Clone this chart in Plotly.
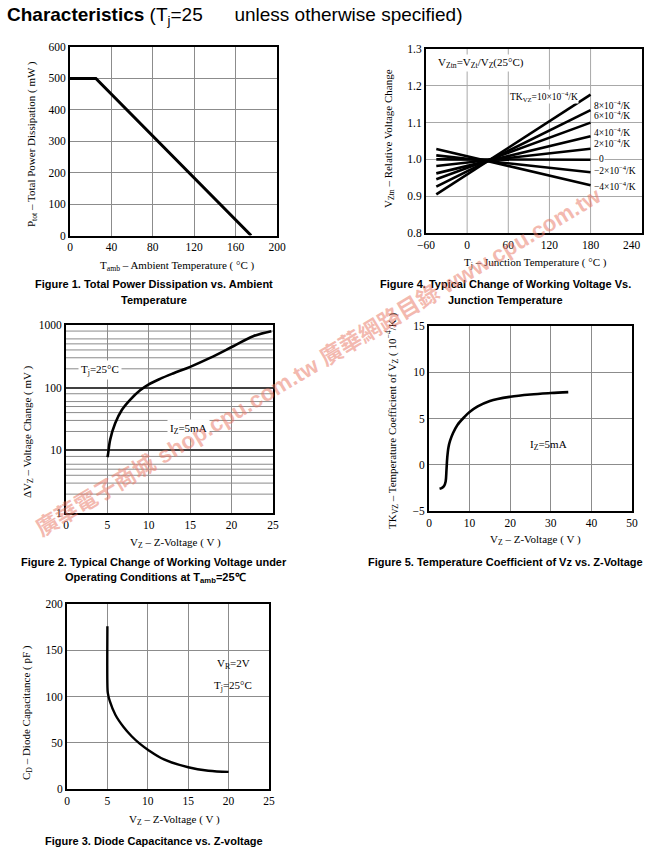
import plotly.graph_objects as go

W, H = 651, 863

# ---------------- data ----------------
# Figure 1: Total power dissipation vs ambient temperature
F1_TAMB = [0, 25, 175]
F1_PTOT = [500, 500, 0]
F1_XTICKS = [0, 40, 80, 120, 160, 200]
F1_YTICKS = [0, 100, 200, 300, 400, 500, 600]

# Figure 4: relative voltage change vs junction temperature
F4_TJ = [-45, 180]
F4_TK = [10, 8, 6, 4, 2, 0, -2, -4]
F4_START = [0.905, 0.926, 0.946, 0.962, 0.982, 1.000, 1.011, 1.028]
F4_END = [1.176, 1.134, 1.100, 1.063, 1.029, 0.999, 0.965, 0.930]
F4_LABELS = ["TK<sub>VZ</sub>=10×10<sup>−4</sup>/K", "8×10<sup>−4</sup>/K", "6×10<sup>−4</sup>/K",
             "4×10<sup>−4</sup>/K", "2×10<sup>−4</sup>/K", "0", "−2×10<sup>−4</sup>/K",
             "−4×10<sup>−4</sup>/K"]
F4_XTICKS = [-60, 0, 60, 120, 180, 240]
F4_XGRID = [0, 60, 120, 180]
F4_YTICKS = [0.8, 0.9, 1.0, 1.1, 1.2, 1.3]

# Figure 2: voltage change vs Z-voltage (log)
F2_VZ = [5.0, 5.05, 5.33, 5.94, 6.74, 7.74, 8.95, 9.95, 11.35, 13.0, 15.0, 17.4, 20.2, 22.6, 24.8]
F2_DV = [7.8, 8.2, 14.7, 27, 44, 64, 91, 112, 138, 170, 215, 298, 458, 662, 796]
F2_XTICKS = [0, 5, 10, 15, 20, 25]
F2_YDECADES = [1, 10, 100, 1000]
F2_MINOR = [2, 3, 4, 5, 6, 8]

# Figure 5: temperature coefficient vs Z-voltage
F5_VZ = [2.6, 3.2, 3.7, 4.1, 4.3, 4.5, 4.8, 5.2, 5.9, 7.0, 8.8, 10, 12, 15, 20, 25, 30, 34.3]
F5_TK = [-2.6, -2.5, -2.3, -1.8, -0.6, 0.8, 1.9, 2.6, 3.4, 4.3, 5.2, 5.7, 6.3, 6.9, 7.35, 7.6, 7.75, 7.85]
F5_XTICKS = [0, 10, 20, 30, 40, 50]
F5_YTICKS = [-5, 0, 5, 10, 15]

# Figure 3: diode capacitance vs Z-voltage
F3_VZ = [5.0, 5.0, 5.05, 5.3, 6.0, 7.0, 8.0, 9.0, 10, 12, 15, 17.5, 20]
F3_CD = [176, 112, 104, 95, 80, 67, 57, 49, 42.5, 32, 23.5, 19.8, 18.5]
F3_XTICKS = [0, 5, 10, 15, 20, 25]
F3_YTICKS = [0, 50, 100, 150, 200]

# ---------------- helpers ----------------
SERIF = "Liberation Serif, Times New Roman, serif"
SANS = "Liberation Sans, Arial, sans-serif"


def fx(px):
    return px / W


def fy(py):
    return 1 - py / H


def axis_common(**kw):
    d = dict(showline=True, linecolor="black", linewidth=2, mirror=True,
             ticks="", showgrid=True, gridcolor="#8c8c8c", gridwidth=1,
             zeroline=False, tickfont=dict(family=SERIF, size=11.5, color="black"),
             fixedrange=True)
    d.update(kw)
    return d


fig = go.Figure()

# minor log gridlines for figure 2 (drawn as thin grey lines under the curve)
gx, gy = [], []
for d in F2_YDECADES[:-1]:
    for m in F2_MINOR:
        gx += [F2_XTICKS[0], F2_XTICKS[-1], None]
        gy += [d * m, d * m, None]
fig.add_trace(go.Scatter(x=gx, y=gy, mode="lines", line=dict(color="#8a8a8a", width=1),
                         xaxis="x3", yaxis="y3", hoverinfo="skip"))

LINE = dict(color="black", width=3)
fig.add_trace(go.Scatter(x=F1_TAMB, y=F1_PTOT, mode="lines", line=LINE, xaxis="x", yaxis="y"))
for s, e in zip(F4_START, F4_END):
    fig.add_trace(go.Scatter(x=F4_TJ, y=[s, e], mode="lines", line=dict(color="black", width=2.6),
                             xaxis="x2", yaxis="y2"))
fig.add_trace(go.Scatter(x=F2_VZ, y=F2_DV, mode="lines", line=dict(color="black", width=2.6, shape="spline"),
                         xaxis="x3", yaxis="y3"))
fig.add_trace(go.Scatter(x=F5_VZ, y=F5_TK, mode="lines", line=dict(color="black", width=2.6, shape="spline"),
                         xaxis="x4", yaxis="y4"))
fig.add_trace(go.Scatter(x=F3_VZ, y=F3_CD, mode="lines", line=dict(color="black", width=2.4, shape="spline"),
                         xaxis="x5", yaxis="y5"))

layout = dict(
    width=W, height=H, margin=dict(l=0, r=0, t=0, b=0, pad=0, autoexpand=False), autosize=False,
    paper_bgcolor="white", plot_bgcolor="white", showlegend=False,
    # Figure 1
    xaxis=axis_common(domain=[fx(70), fx(277)], range=[0, 200], tickvals=F1_XTICKS, anchor="y"),
    yaxis=axis_common(domain=[fy(235.5), fy(47)], range=[0, 600], tickvals=F1_YTICKS, anchor="x"),
    # Figure 4
    xaxis2=axis_common(domain=[fx(426), fx(642)], range=[-60, 255], tickvals=F4_XTICKS,
                       showgrid=False, anchor="y2"),
    yaxis2=axis_common(domain=[fy(233), fy(49)], range=[0.8, 1.3], tickvals=F4_YTICKS,
                       tickformat=".1f", anchor="x2", gridcolor="#a8a8a8"),
    # Figure 2
    xaxis3=axis_common(domain=[fx(66), fx(273)], range=[0, 25], tickvals=F2_XTICKS, anchor="y3"),
    yaxis3=axis_common(domain=[fy(513), fy(325)], type="log", range=[0, 3], tickvals=F2_YDECADES,
                       anchor="x3", gridcolor="#404040", gridwidth=1.5),
    # Figure 5
    xaxis4=axis_common(domain=[fx(429), fx(632)], range=[0, 50], tickvals=F5_XTICKS, anchor="y4"),
    yaxis4=axis_common(domain=[fy(511), fy(326)], range=[-5, 15], tickvals=F5_YTICKS, anchor="x4"),
    # Figure 3
    xaxis5=axis_common(domain=[fx(67), fx(269)], range=[0, 25], tickvals=F3_XTICKS, anchor="y5"),
    yaxis5=axis_common(domain=[fy(789), fy(604)], range=[0, 200], tickvals=F3_YTICKS, anchor="x5"),
)
fig.update_layout(**layout)

# vertical grid for figure 4 (no line at 240)
shapes = []
for g in F4_XGRID:
    shapes.append(dict(type="line", xref="x2", yref="y2 domain", x0=g, x1=g, y0=0, y1=1,
                       line=dict(color="#a8a8a8", width=1), layer="below"))
fig.update_layout(shapes=shapes)

ann = []


def paper_text(text, px, py, size=11, family=SERIF, angle=0, bold=False, xanchor="center", color="black"):
    ann.append(dict(text=text, x=fx(px), y=fy(py), xref="paper", yref="paper", showarrow=False,
                    xanchor=xanchor, yanchor="middle", textangle=angle, align=xanchor,
                    font=dict(family=family, size=size, color=color, weight="bold" if bold else "normal")))


def data_text(text, x, y, xr, yr, size=11, xanchor="center", bg="white", pad=1):
    ann.append(dict(text=text, x=x, y=y, xref=xr, yref=yr, showarrow=False, xanchor=xanchor,
                    yanchor="middle", bgcolor=bg, borderpad=pad,
                    font=dict(family=SERIF, size=size, color="black")))


# Title
paper_text("<b>Characteristics</b> (T<sub>j</sub>=25\u00a0\u00a0\u00a0\u00a0\u00a0 unless otherwise specified)",
           5, 16, size=19, family=SANS, xanchor="left")

# Figure 1 texts
paper_text("T<sub>amb</sub> – Ambient Temperature ( °C )", 177, 266)
paper_text("P<sub>tot</sub> – Total Power Dissipation ( mW )", 32, 144, angle=-90)
paper_text("Figure 1. Total Power Dissipation vs. Ambient", 154, 284, family=SANS, bold=True)
paper_text("Temperature", 154, 300, family=SANS, bold=True)

# Figure 4 texts
paper_text("T<sub>j</sub> – Junction Temperature ( °C )", 535, 263)
paper_text("V<sub>Ztn</sub> – Relative Voltage Change", 389, 139, angle=-90)
paper_text("Figure 4. Typical Change of Working Voltage Vs.", 505, 284, family=SANS, bold=True)
paper_text("Junction Temperature", 505, 300, family=SANS, bold=True)
data_text("V<sub>Ztn</sub>=V<sub>Zt</sub>/V<sub>Z</sub>(25°C)", 19.7, 1.262, "x2", "y2")
f4_label_pos = [(163, 1.172, "right", "white"), (183, 1.149, "left", None), (183, 1.122, "left", None),
                (183, 1.074, "left", None), (183, 1.045, "left", None), (191, 1.0, "left", "white"),
                (183, 0.970, "left", None), (183, 0.928, "left", None)]
for lab, (lx, ly, anc, bg) in zip(F4_LABELS, f4_label_pos):
    data_text(lab, lx, ly, "x2", "y2", size=9.5, xanchor=anc,
              bg=bg if bg else "rgba(0,0,0,0)", pad=0)

# Figure 2 texts
paper_text("V<sub>Z</sub> – Z-Voltage ( V )", 175, 543)
paper_text("ΔV<sub>Z</sub> – Voltage Change ( mV )", 28, 432, angle=-90)
paper_text("Figure 2. Typical Change of Working Voltage under", 154, 562, family=SANS, bold=True)
paper_text("Operating Conditions at T<sub>amb</sub>=25℃", 155, 578, family=SANS, bold=True)
data_text("T<sub>j</sub>=25°C", 4.13, 2.283, "x3", "y3", pad=2)
data_text("I<sub>Z</sub>=5mA", 14.8, 1.333, "x3", "y3", pad=2)

# Figure 5 texts
paper_text("V<sub>Z</sub> – Z-Voltage ( V )", 535, 540)
paper_text("TK<sub>VZ</sub> – Temperature Coefficient of V<sub>Z</sub> ( 10<sup>−4</sup>/K )", 392, 421, angle=-90)
paper_text("Figure 5. Temperature Coefficient of Vz vs. Z-Voltage", 505, 562, family=SANS, bold=True)
data_text("I<sub>Z</sub>=5mA", 29.5, 2.1, "x4", "y4", bg="rgba(0,0,0,0)")

# Figure 3 texts
paper_text("V<sub>Z</sub> – Z-Voltage ( V )", 174, 820)
paper_text("C<sub>D</sub> – Diode Capacitance ( pF )", 27, 713, angle=-90)
paper_text("Figure 3. Diode Capacitance vs. Z-voltage", 154, 841, family=SANS, bold=True)
data_text("V<sub>R</sub>=2V", 20.6, 135.5, "x5", "y5", bg="rgba(0,0,0,0)")
data_text("T<sub>j</sub>=25°C", 20.6, 111, "x5", "y5", bg="rgba(0,0,0,0)")

# Watermark
ann.append(dict(text="廣華電子商城 shop.cpu.com.tw 廣華網路目錄 www.cpu.com.tw",
                x=fx(318), y=fy(362), xref="paper", yref="paper", showarrow=False,
                textangle=-31, xanchor="center", yanchor="middle",
                font=dict(family="Liberation Sans, Noto Sans CJK TC, sans-serif", size=22.5,
                          color="rgba(232,115,95,0.5)", weight="bold")))

fig.update_layout(annotations=ann)
fig.write_html("out.html", config={"displayModeBar": False},
               post_script="document.body.style.margin='0';")
